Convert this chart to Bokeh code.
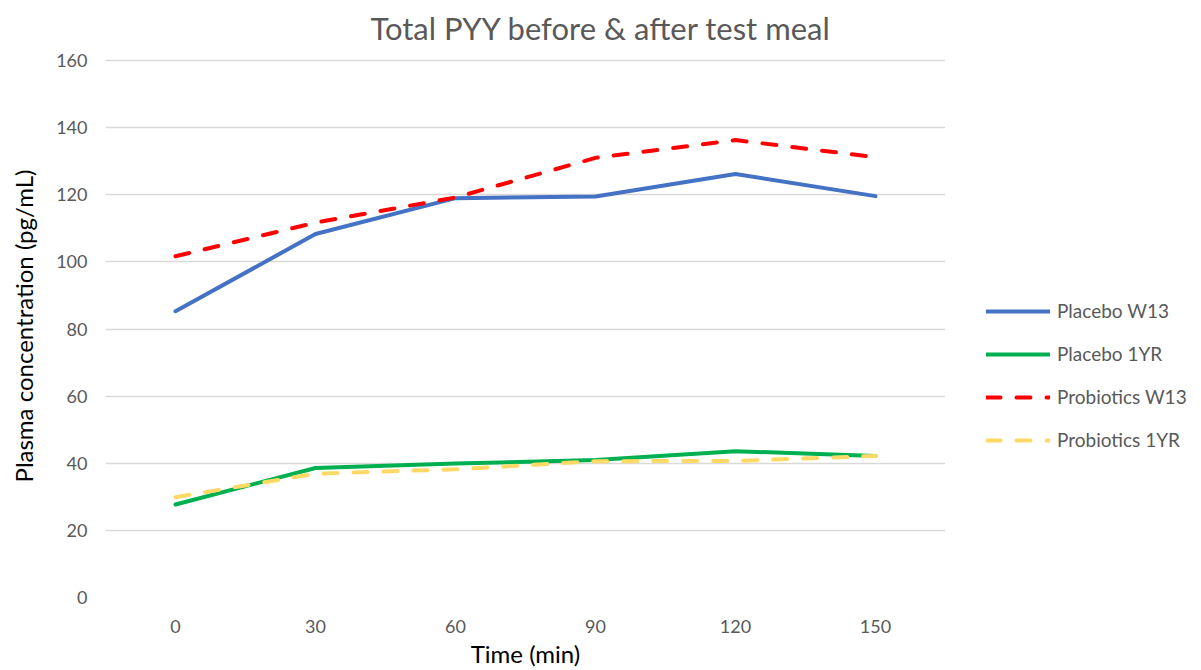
from bokeh.plotting import figure
from bokeh.layouts import row, column
from bokeh.models import Legend, LegendItem, FactorRange
from bokeh.core.properties import value
from bokeh.embed import file_html
from bokeh.resources import INLINE

# Sampling times (min) and mean plasma PYY (pg/mL)
times = ["0", "30", "60", "90", "120", "150"]
placebo_w13 = [85.3, 108.3, 119.0, 119.5, 126.2, 119.6]
placebo_1yr = [27.7, 38.6, 39.9, 41.0, 43.6, 42.2]
probiotics_w13 = [101.7, 111.7, 119.2, 131.0, 136.3, 131.2]
probiotics_1yr = [29.9, 36.9, 38.2, 40.6, 40.7, 42.2]

series_names = ["Placebo W13", "Placebo 1YR", "Probiotics W13", "Probiotics 1YR"]
series_values = [placebo_w13, placebo_1yr, probiotics_w13, probiotics_1yr]
series_colors = ["#4472C4", "#00B050", "#FF0000", "#FFD966"]
series_dashes = ["solid", "solid", "14 16", "14 16"]
chart_title = "Total PYY before & after test meal"

FONT = "Lato"
GREY = "#595959"
LINE = dict(line_width=4, line_cap="round", line_join="round")
Y_MAX = 161.8
TITLE_H = 46
BODY_H = 670 - TITLE_H


def bare(fig):
    fig.grid.visible = False
    fig.outline_line_color = None
    fig.background_fill_color = "white"
    fig.border_fill_color = "white"


# --- title strip across the full width --------------------------------------
top = figure(width=1201, height=TITLE_H, output_backend="svg",
             toolbar_location=None, min_border=0,
             x_axis_location=None, y_axis_location=None,
             x_range=(0, 1), y_range=(0, 1))
bare(top)
top.text(x=[0.5], y=[0.5], text=[chart_title], text_align="center",
         text_baseline="middle", y_offset=4, text_font=value(FONT),
         text_font_size="31px", text_color=GREY)

# --- main chart -------------------------------------------------------------
p = figure(
    width=945, height=BODY_H,
    x_range=FactorRange(factors=times, range_padding=0),
    y_range=(0, Y_MAX),
    output_backend="svg", toolbar_location=None,
    min_border_left=105, min_border_right=0,
    min_border_top=8, min_border_bottom=73,
)
p.outline_line_color = None
p.background_fill_color = "white"
p.border_fill_color = "white"

for vals, color, dash in zip(series_values, series_colors, series_dashes):
    p.line(times, vals, line_color=color, line_dash=dash, **LINE)

p.xgrid.grid_line_color = None
p.ygrid.grid_line_color = "#D9D9D9"
p.ygrid.grid_line_width = 1.5
p.yaxis.ticker = list(range(0, 161, 20))

for ax in (p.xaxis, p.yaxis):
    ax.axis_line_color = None
    ax.major_tick_line_color = None
    ax.minor_tick_line_color = None
    ax.major_label_text_font = FONT
    ax.major_label_text_font_size = "18px"
    ax.major_label_text_color = GREY
    ax.axis_label_text_font = FONT
    ax.axis_label_text_font_size = "24px"
    ax.axis_label_text_font_style = "normal"
    ax.axis_label_text_color = "#000000"

p.xaxis.axis_label = "Time (min)"
p.xaxis.major_label_standoff = 16
p.xaxis.axis_label_standoff = 3
p.yaxis.axis_label = "Plasma concentration (pg/mL)"
p.yaxis.major_label_standoff = 12
p.yaxis.axis_label_standoff = 15

# --- legend panel to the right of the chart ---------------------------------
lg = figure(width=256, height=BODY_H, output_backend="svg", toolbar_location=None,
            min_border=0, x_axis_location=None, y_axis_location=None,
            x_range=FactorRange(factors=times, range_padding=0),
            y_range=(0, Y_MAX))
bare(lg)

# hidden copies of the series, used only to draw the legend swatches
items = []
for name, vals, color, dash in zip(series_names, series_values,
                                   series_colors, series_dashes):
    r = lg.line(times, vals, line_color=color, line_dash=dash, visible=False, **LINE)
    items.append(LegendItem(label=name, renderers=[r]))

legend = Legend(items=items, location=(41, 146),
                label_text_font=FONT, label_text_font_size="19px",
                label_text_color=GREY, glyph_width=64, glyph_height=22,
                label_height=22, label_standoff=7, spacing=20, padding=8,
                margin=0, border_line_color=None, background_fill_alpha=0,
                inactive_fill_alpha=0)
lg.add_layout(legend, "center")

layout = column(top, row(p, lg, spacing=0), spacing=0)
open("out.html", "w").write(file_html(layout, INLINE))
